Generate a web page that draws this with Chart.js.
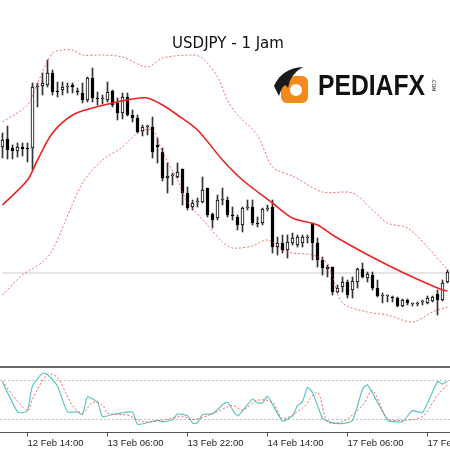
<!DOCTYPE html>
<html>
<head>
<meta charset="utf-8">
<script src="https://cdn.jsdelivr.net/npm/chart.js@4"></script>
<style>
  html, body { margin: 0; padding: 0; background: #fff; }
  #wrap { width: 450px; height: 450px; position: relative; }
  #mainBox { position: absolute; left: 0; top: 0; width: 450px; height: 366px; }
  #stochBox { position: absolute; left: 0; top: 366px; width: 450px; height: 84px; }
</style>
</head>
<body>
<div id="wrap">
  <div id="mainBox"><canvas id="mainChart"></canvas></div>
  <div id="stochBox"><canvas id="stochChart"></canvas></div>
</div>
<script>
// USDJPY H1 candles (open, high, low, close)
const opens  = [154.53,154.61,154.52,154.49,154.53,154.52,154.52,155.13,155.14,155.15,155.27,155.09,155.10,155.13,155.15,155.09,155.07,155.00,155.22,155.02,155.01,155.00,155.09,154.97,154.87,155.03,154.85,154.82,154.69,154.73,154.73,154.55,154.48,154.22,154.24,154.23,154.31,154.07,153.93,153.98,153.98,154.12,153.86,153.82,154.00,154.00,153.85,153.83,153.75,153.92,153.93,153.77,153.77,153.91,153.93,153.53,153.57,153.50,153.57,153.55,153.57,153.62,153.77,153.57,153.40,153.31,153.33,153.08,153.13,153.18,153.10,153.18,153.31,153.22,153.25,153.12,153.04,153.04,153.03,153.02,152.94,153.00,152.96,152.96,152.98,152.97,152.99,153.06,153.00,153.18];
const highs  = [154.67,154.74,154.55,154.57,154.57,154.57,155.17,155.17,155.27,155.40,155.30,155.18,155.18,155.17,155.17,155.12,155.17,155.23,155.32,155.08,155.05,155.18,155.10,155.02,155.07,155.07,154.90,154.85,154.75,154.75,154.83,154.62,154.52,154.37,154.27,154.37,154.31,154.13,154.00,154.02,154.23,154.12,153.87,154.05,154.12,154.03,153.93,153.85,153.93,154.00,154.00,153.83,153.92,153.95,154.00,153.63,153.65,153.65,153.67,153.65,153.65,153.65,153.77,153.62,153.43,153.35,153.33,153.15,153.23,153.20,153.23,153.32,153.37,153.28,153.28,153.20,153.07,153.05,153.04,153.03,153.01,153.01,152.97,152.98,153.00,153.04,153.04,153.10,153.20,153.30];
const lows   = [154.42,154.41,154.41,154.43,154.44,154.38,154.30,154.93,155.05,155.13,155.05,155.03,155.05,155.07,155.07,155.05,154.97,154.98,154.98,154.95,154.96,154.98,154.93,154.80,154.81,154.84,154.78,154.67,154.64,154.65,154.42,154.37,154.19,154.07,154.15,154.22,153.95,153.90,153.90,153.93,153.97,153.83,153.72,153.80,153.95,153.83,153.80,153.70,153.68,153.90,153.75,153.73,153.75,153.89,153.47,153.45,153.47,153.42,153.55,153.53,153.53,153.57,153.40,153.33,153.25,153.23,153.05,153.07,153.08,153.02,153.02,153.12,153.22,153.18,153.10,153.03,152.97,152.98,152.98,152.93,152.93,152.95,152.94,152.94,152.95,152.96,152.98,152.85,152.99,153.17];
const closes = [154.60,154.50,154.49,154.53,154.51,154.51,155.13,155.14,155.17,155.27,155.08,155.08,155.13,155.14,155.13,155.08,155.00,155.22,155.02,155.01,155.02,155.08,154.95,154.87,155.03,154.85,154.82,154.68,154.73,154.74,154.48,154.53,154.22,154.24,154.25,154.28,154.07,153.92,153.97,153.99,154.10,153.85,153.80,154.00,154.01,153.85,153.84,153.75,153.92,153.93,153.77,153.76,153.91,153.92,153.53,153.57,153.50,153.58,153.62,153.63,153.63,153.63,153.57,153.40,153.32,153.33,153.08,153.12,153.18,153.05,153.19,153.31,153.23,153.26,153.12,153.04,153.05,153.05,153.02,152.94,153.00,152.97,152.97,152.97,152.99,153.02,153.03,153.00,153.17,153.28];

// indicator readings: [candle index, value]
const maPoints = [[0,153.95],[5,154.20],[7,154.40],[10,154.67],[14,154.85],[18,154.92],[22,154.97],[26,155.01],[29,155.02],[32,154.95],[35,154.85],[39,154.70],[44,154.40],[48,154.20],[54,153.97],[58,153.82],[63,153.75],[66,153.65],[72,153.48],[77,153.35],[82,153.23],[88,153.10],[89,153.09]];
const upperPoints = [[0,154.78],[5,154.95],[7,155.17],[10,155.47],[12,155.50],[14,155.50],[16,155.45],[20,155.45],[24,155.43],[29,155.33],[32,155.42],[38,155.45],[40,155.42],[43,155.23],[45,155.00],[47,154.85],[51,154.65],[54,154.33],[58,154.24],[64,154.08],[70,154.07],[74,153.90],[77,153.77],[81,153.72],[85,153.53],[89,153.30]];
const lowerPoints = [[0,153.05],[4,153.25],[8,153.38],[10,153.50],[16,154.17],[20,154.40],[24,154.53],[27,154.67],[30,154.70],[32,154.48],[35,154.20],[37,153.98],[41,153.75],[44,153.58],[46,153.52],[50,153.54],[53,153.60],[57,153.48],[62,153.45],[65,153.37],[66,153.23],[68,152.97],[73,152.88],[77,152.85],[82,152.78],[86,152.88],[89,152.93]];
const stochMain = [[0,78],[3,32],[4,31],[5,34],[6,72],[8,92],[9,90],[11,72],[13,32],[15,32],[16,28],[17,55],[19,47],[20,25],[22,28],[24,31],[26,32],[27,13],[31,19],[32,17],[34,20],[35,29],[37,26],[38,15],[39,15],[40,28],[42,29],[44,43],[45,47],[47,26],[50,52],[51,46],[52,46],[53,56],[56,18],[58,26],[59,42],[60,48],[61,70],[62,62],[64,22],[65,18],[66,15],[68,14],[70,19],[72,67],[73,74],[77,19],[78,17],[80,17],[82,34],[84,31],[87,79],[88,75],[89,80]];
const stochSignal = [[0,80],[2,58],[5,34],[6,52],[9,90],[11,85],[14,42],[16,30],[18,47],[20,43],[21,30],[25,27],[28,17],[32,19],[36,25],[38,20],[42,29],[46,42],[48,35],[51,50],[54,47],[56,22],[60,38],[63,62],[65,17],[68,17],[72,42],[74,65],[77,22],[80,19],[84,25],[87,58],[89,74]];
const lastPrice = 153.27;

const tickIdx = [5, 21, 37, 53, 69, 85];
const tickLabels = ['12 Feb 14:00', '13 Feb 06:00', '13 Feb 22:00', '14 Feb 14:00', '17 Feb 06:00', '17 Feb 22:00'];

const n = opens.length;
const labels = opens.map((v, i) => String(i));

function sparse(points) {
    const arr = new Array(n).fill(null);
    points.forEach(p => { arr[p[0]] = p[1]; });
    return arr;
}

const wicks = lows.map((l, i) => [l, highs[i]]);
const bodies = opens.map((o, i) => [Math.min(o, closes[i]), Math.max(o, closes[i])]);
const bodyColors = opens.map((o, i) => closes[i] < o ? '#000' : '#fff');

// title and logo
const overlay = {
    id: 'overlay',
    afterDraw(chart) {
        const c = chart.ctx;
        c.save();
        c.fillStyle = '#111';
        c.font = '15px "DejaVu Sans"';
        c.textAlign = 'center';
        c.textBaseline = 'middle';
        c.fillText('USDJPY - 1 Jam', 228, 44);

        // logo icon
        c.fillStyle = '#f28a1e';
        c.beginPath();
        c.roundRect(281, 76, 27, 27, 6);
        c.fill();
        c.fillStyle = '#fff';
        c.beginPath();
        c.arc(296, 90, 6, 0, Math.PI * 2);
        c.fill();
        c.fillStyle = '#1a1a1a';
        c.beginPath();
        c.moveTo(274, 86);
        c.quadraticCurveTo(282, 68, 303, 67);
        c.quadraticCurveTo(290, 74, 288, 88);
        c.quadraticCurveTo(284, 80, 279, 96);
        c.closePath();
        c.fill();

        c.fillStyle = '#111';
        c.font = 'bold 30px "Liberation Sans"';
        c.textAlign = 'left';
        c.textBaseline = 'alphabetic';
        c.fillText('PEDIAFX', 318, 95, 107);
        c.translate(432, 85);
        c.rotate(Math.PI / 2);
        c.font = '5px "DejaVu Sans"';
        c.textAlign = 'center';
        c.fillText('.COM', 0, 0);
        c.restore();
    }
};

new Chart(document.getElementById('mainChart').getContext('2d'), {
    type: 'bar',
    data: {
        labels: labels,
        datasets: [
            { type: 'line', data: sparse(upperPoints), borderColor: 'rgba(240,60,60,0.75)', borderWidth: 1, borderDash: [2, 2], pointRadius: 0, spanGaps: true, tension: 0.3, order: 0 },
            { type: 'line', data: sparse(lowerPoints), borderColor: 'rgba(240,60,60,0.75)', borderWidth: 1, borderDash: [2, 2], pointRadius: 0, spanGaps: true, tension: 0.3, order: 0 },
            { type: 'line', data: sparse(maPoints), borderColor: '#ee2222', borderWidth: 1.6, pointRadius: 0, spanGaps: true, tension: 0.3, order: 0 },
            { type: 'line', data: new Array(n).fill(lastPrice), borderColor: '#c8c8c8', borderWidth: 1, pointRadius: 0, order: 3 },
            { data: wicks, backgroundColor: '#333', barThickness: 1, grouped: false, order: 2 },
            { data: bodies, backgroundColor: bodyColors, borderColor: '#000', borderWidth: 1, borderSkipped: false, barThickness: 3, grouped: false, order: 1 }
        ]
    },
    options: {
        responsive: true,
        maintainAspectRatio: false,
        animation: false,
        devicePixelRatio: 1,
        layout: { padding: 0 },
        plugins: { legend: { display: false }, tooltip: { enabled: false } },
        scales: {
            x: { display: false, offset: true },
            y: { display: false, min: 152.34, max: 156.00 }
        }
    },
    plugins: [overlay]
});

// stochastic panel
const panelTop = {
    id: 'panelTop',
    beforeDraw(chart) {
        const c = chart.ctx;
        c.save();
        c.fillStyle = '#666';
        c.fillRect(0, 0, chart.width, 2);
        c.restore();
    }
};

new Chart(document.getElementById('stochChart').getContext('2d'), {
    type: 'line',
    data: {
        labels: labels,
        datasets: [
            { data: sparse(stochSignal), borderColor: 'rgba(245,70,70,0.85)', borderWidth: 1, borderDash: [2, 2], pointRadius: 0, spanGaps: true, tension: 0.3 },
            { data: sparse(stochMain), borderColor: '#5cc8c4', borderWidth: 1.2, pointRadius: 0, spanGaps: true, tension: 0.2 }
        ]
    },
    options: {
        responsive: true,
        maintainAspectRatio: false,
        animation: false,
        devicePixelRatio: 1,
        layout: { padding: { top: 2, left: 0, right: 0, bottom: 0 } },
        plugins: { legend: { display: false }, tooltip: { enabled: false } },
        scales: {
            x: {
                offset: true,
                afterBuildTicks: scale => { scale.ticks = tickIdx.map(v => ({ value: v })); },
                afterFit: scale => { scale.paddingLeft = 0; scale.paddingRight = 0; },
                ticks: {
                    autoSkip: false,
                    maxRotation: 0,
                    align: 'start',
                    padding: 1,
                    color: '#222',
                    font: { family: 'Liberation Sans', size: 9.5 },
                    callback: (value, index) => tickLabels[index]
                },
                grid: { drawOnChartArea: false, offset: false, tickLength: 4, color: '#555' },
                border: { color: '#555', width: 1 }
            },
            y: {
                min: 0,
                max: 100,
                afterBuildTicks: scale => { scale.ticks = [{ value: 20 }, { value: 80 }]; },
                afterFit: scale => { scale.width = 0; },
                ticks: { display: false },
                grid: { color: '#c4c4c4', tickLength: 0 },
                border: { display: false, dash: [2, 2] }
            }
        }
    },
    plugins: [panelTop]
});
</script>
</body>
</html>
